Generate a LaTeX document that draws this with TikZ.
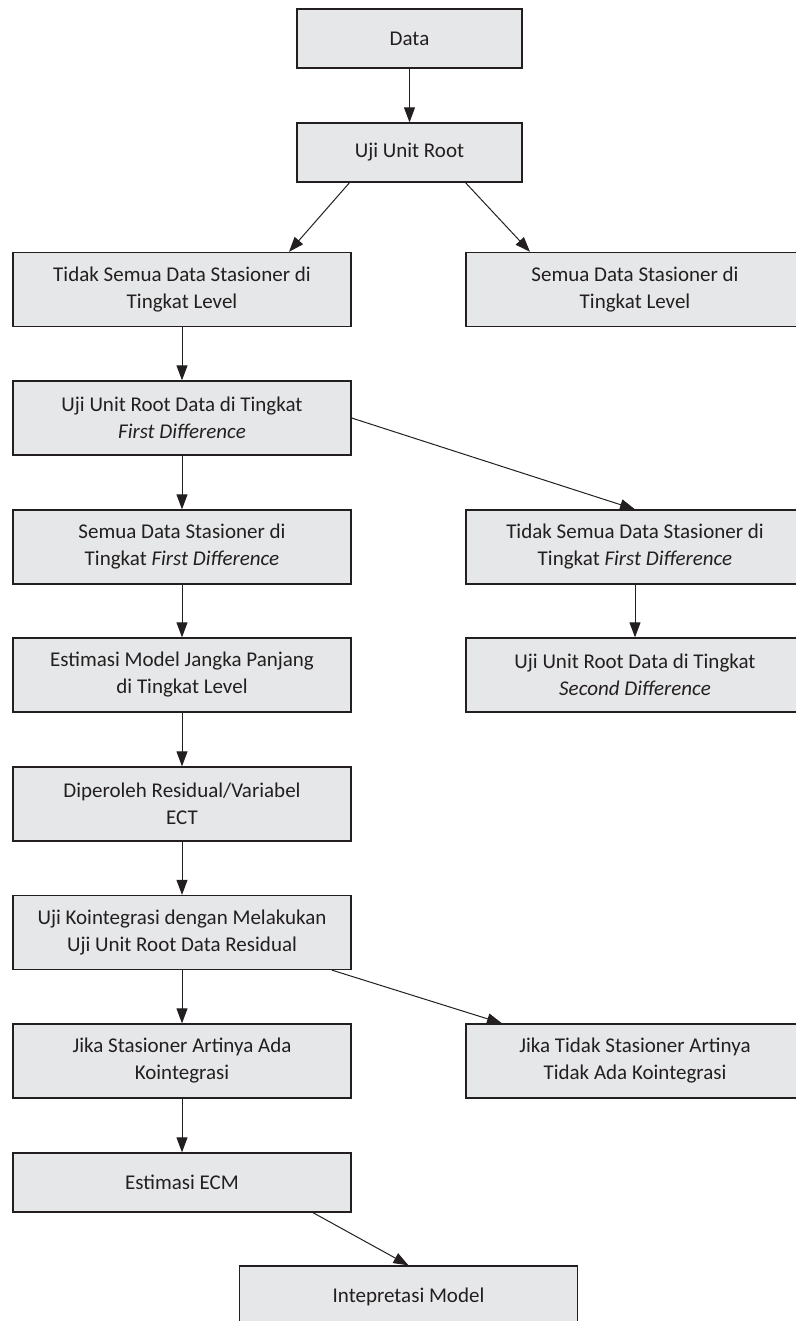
\documentclass[tikz,border=0pt]{standalone}
\usepackage{fontspec}
\setmainfont{Carlito}
\usetikzlibrary{arrows.meta}
\definecolor{boxgray}{HTML}{E6E7E8}
\definecolor{inkgray}{HTML}{231F20}
\tikzset{
  procbox/.style={draw=inkgray, fill=boxgray, line width=1.3pt, text=inkgray, align=center,
    minimum width=338pt, minimum height=74pt, inner sep=0pt,
    font=\fontsize{21}{27}\selectfont},
  smallbox/.style={procbox, minimum width=225pt, minimum height=59pt},
  flow/.style={draw=inkgray, line width=1pt, -{Triangle[length=15pt,width=11pt]}}
}
\begin{document}
\begin{tikzpicture}[x=1pt, y=-1pt]

\useasboundingbox (0, 0) rectangle (795, 1321) ;

\node[smallbox] (data) at (409.5, 38.5) {Data} ; % Data
\node[smallbox] (uji) at (409.5, 152.5) {Uji Unit Root} ; % UjiRoot
\node[procbox] (lvlno) at (182, 289.5) {Tidak Semua Data Stasioner di\\Tingkat Level} ; % LevelNo
\node[procbox] (lvlyes) at (635, 289.5) {Semua Data Stasioner di\\Tingkat Level} ; % LevelYes
\node[procbox] (ujifd) at (182, 418) {Uji Unit Root Data di Tingkat\\\textit{First Difference}} ; % UjiFD
\node[procbox] (fdyes) at (182, 547) {Semua Data Stasioner di\\Tingkat \textit{First Difference}} ; % FDYes
\node[procbox] (fdno) at (635, 547) {Tidak Semua Data Stasioner di\\Tingkat \textit{First Difference}} ; % FDNo
\node[procbox] (jangka) at (182, 675) {Estimasi Model Jangka Panjang\\di Tingkat Level} ; % Jangka
\node[procbox] (ujisd) at (635, 675) {Uji Unit Root Data di Tingkat\\\textit{Second Difference}} ; % UjiSD
\node[procbox] (resid) at (182, 804) {Diperoleh Residual/Variabel\\ECT} ; % Resid
\node[procbox] (koin) at (182, 932.5) {Uji Kointegrasi dengan Melakukan\\Uji Unit Root Data Residual} ; % Koin
\node[procbox] (koinyes) at (182, 1061) {Jika Stasioner Artinya Ada\\Kointegrasi} ; % KoinYes
\node[procbox] (koinno) at (635, 1061) {Jika Tidak Stasioner Artinya\\Tidak Ada Kointegrasi} ; % KoinNo
\node[procbox, minimum height=59pt] (ecm) at (182, 1182.5) {Estimasi ECM} ; % ECM
\node[procbox, minimum height=62pt] (interp) at (408.5, 1297) {Intepretasi Model} ; % Interp

\draw[flow] (data) -- (uji) ; % data-uji
\draw[flow] ([xshift=-60pt]uji.south) -- ([xshift=107pt]lvlno.north) ; % uji-lvlno
\draw[flow] ([xshift=56pt]uji.south) -- ([xshift=-105pt]lvlyes.north) ; % uji-lvlyes
\draw[flow] (lvlno) -- (ujifd) ; % lvlno-ujifd
\draw[flow] (ujifd) -- (fdyes) ; % ujifd-fdyes
\draw[flow] (ujifd.east) -- (fdno.north) ; % ujifd-fdno
\draw[flow] (fdyes) -- (jangka) ; % fdyes-jangka
\draw[flow] (fdno) -- (ujisd) ; % fdno-ujisd
\draw[flow] (jangka) -- (resid) ; % jangka-resid
\draw[flow] (resid) -- (koin) ; % resid-koin
\draw[flow] (koin) -- (koinyes) ; % koin-koinyes
\draw[flow] ([xshift=150pt]koin.south) -- ([xshift=-133pt]koinno.north) ; % koin-koinno
\draw[flow] (koinyes) -- (ecm) ; % koinyes-ecm
\draw[flow] ([xshift=131pt]ecm.south) -- (interp.north) ; % ecm-interp

\end{tikzpicture}
\end{document}
